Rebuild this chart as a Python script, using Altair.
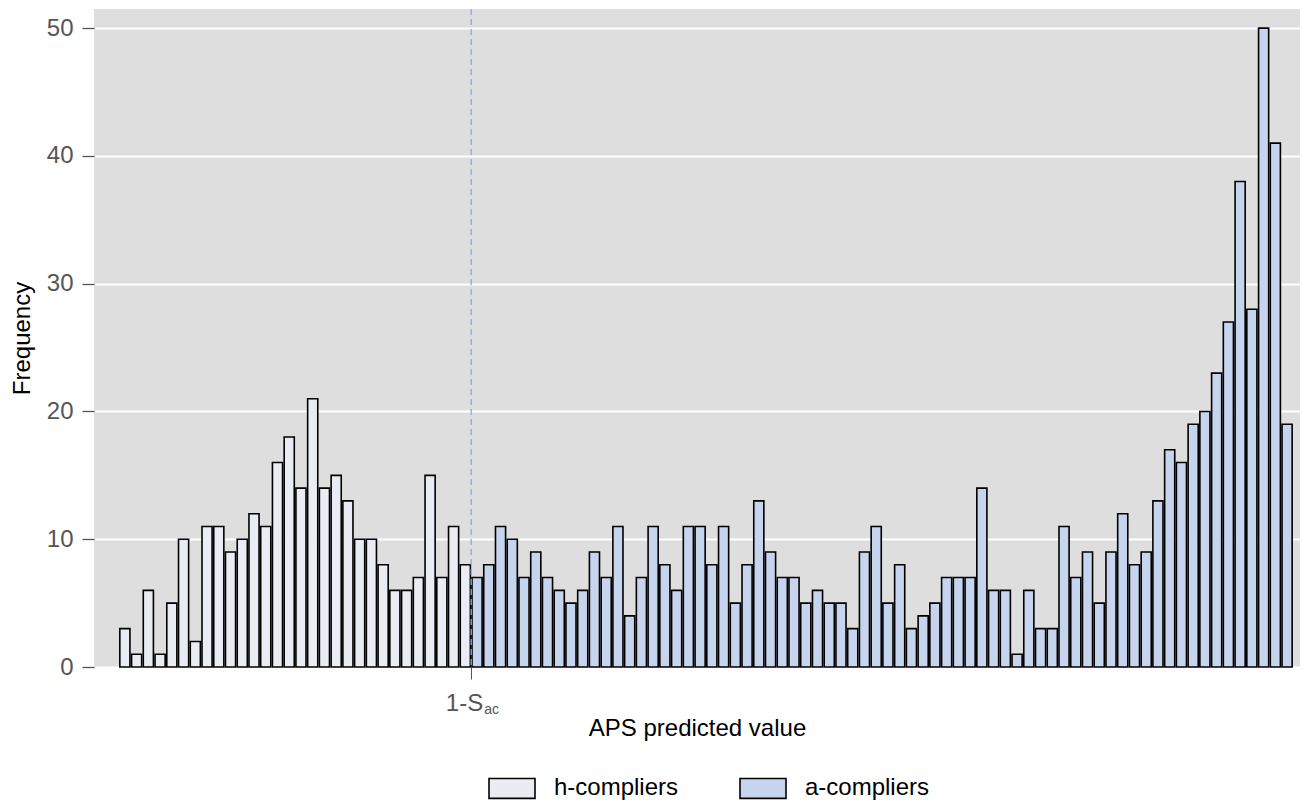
import altair as alt
import pandas as pd

# ---- data ----
h_counts = [3, 1, 6, 1, 5, 10, 2, 11, 11, 9, 10, 12, 11, 16, 18, 14, 21, 14, 15, 13,
            10, 10, 8, 6, 6, 7, 15, 7, 11, 8]
a_counts = [7, 8, 11, 10, 7, 9, 7, 6, 5, 6, 9, 7, 11, 4, 7, 11, 8, 6, 11, 11,
            8, 11, 5, 8, 13, 9, 7, 7, 5, 6, 5, 5, 3, 9, 11, 5, 8, 3, 4, 5,
            7, 7, 7, 14, 6, 6, 1, 6, 3, 3, 11, 7, 9, 5, 9, 12, 8, 9, 13, 17,
            16, 19, 20, 23, 27, 38, 28, 50, 41, 19]
groups = ["h-compliers", "a-compliers"]
group_colors = ["#E9ECF2", "#C6D4EE"]
cut_position = [30]
cut_label = ["1-S"]
cut_sub = ["ac"]
y_ticks = [0, 10, 20, 30, 40, 50]

rows = []
for i, c in enumerate(h_counts):
    rows.append({"bin": i, "count": c, "group": groups[0]})
for j, c in enumerate(a_counts):
    rows.append({"bin": len(h_counts) + j, "count": c, "group": groups[1]})
df = pd.DataFrame(rows)
cut_df = pd.DataFrame({"cut": cut_position, "label": cut_label, "sub": cut_sub})

FONT = "Liberation Sans"
W, H = 1206, 658
GRAY = "#555555"

xscale = alt.Scale(domain=[-2.13, 100.6], nice=False, zero=False)
yscale = alt.Scale(domain=[0, 51.5], nice=False)

x_axis = alt.Axis(values=cut_position, labels=False, tickSize=12,
                  tickColor=GRAY, domain=False, gridOpacity=0,
                  titleFontSize=24, titleColor="black", titleFontWeight="normal",
                  titlePadding=37)

bars = alt.Chart(df).transform_calculate(
    x0="datum.bin + 0.07", x1="datum.bin + 0.93"
).mark_bar(stroke="black", strokeWidth=1.6, opacity=1).encode(
    x=alt.X("x0:Q", scale=xscale, title="APS predicted value", axis=x_axis),
    x2="x1:Q",
    y=alt.Y("count:Q", scale=yscale, title="Frequency",
            axis=alt.Axis(values=y_ticks, labelFontSize=24, labelColor=GRAY,
                          tickSize=12, tickColor=GRAY, tickWidth=1.3, labelPadding=9,
                          domain=False, grid=True, gridColor="white", gridWidth=2,
                          titleFontSize=24, titleColor="black", titleFontWeight="normal",
                          titlePadding=12)),
    y2=alt.datum(0),
    color=alt.Color("group:N", scale=alt.Scale(domain=groups, range=group_colors),
                    legend=alt.Legend(title=None, orient="none", direction="horizontal",
                                      legendX=394, legendY=755,
                                      symbolType="M-1,-0.43H1V0.43H-1Z", symbolSize=2116,
                                      symbolStrokeColor="black", symbolStrokeWidth=1.6,
                                      symbolOpacity=1,
                                      labelFontSize=24, labelColor="black", labelOffset=18,
                                      columnPadding=57)),
)

rule = alt.Chart(cut_df).mark_rule(
    strokeDash=[6, 4], color="#8EA7EA", strokeWidth=1.3
).encode(x=alt.X("cut:Q", scale=xscale, title="APS predicted value", axis=x_axis))

main_label = alt.Chart(cut_df).mark_text(
    align="right", baseline="alphabetic", fontSize=24, dx=12, color=GRAY, font=FONT
).encode(
    x=alt.X("cut:Q", scale=xscale, title="APS predicted value", axis=x_axis),
    y=alt.value(H + 44),
    text="label:N",
)

sub = alt.Chart(cut_df).mark_text(
    align="left", baseline="alphabetic", fontSize=14, dx=13, color=GRAY, font=FONT
).encode(
    x=alt.X("cut:Q", scale=xscale, title="APS predicted value", axis=x_axis),
    y=alt.value(H + 47),
    text="sub:N",
)

chart = alt.layer(bars, rule, main_label, sub).properties(
    width=W, height=H,
    padding={"left": 86, "top": 1, "right": 0, "bottom": 134},
    autosize=alt.AutoSizeParams(type="none"),
).configure(font=FONT).configure_view(fill="#DEDEDE", strokeWidth=0)

chart.save("out.html", embed_options={"renderer": "svg", "actions": False})
